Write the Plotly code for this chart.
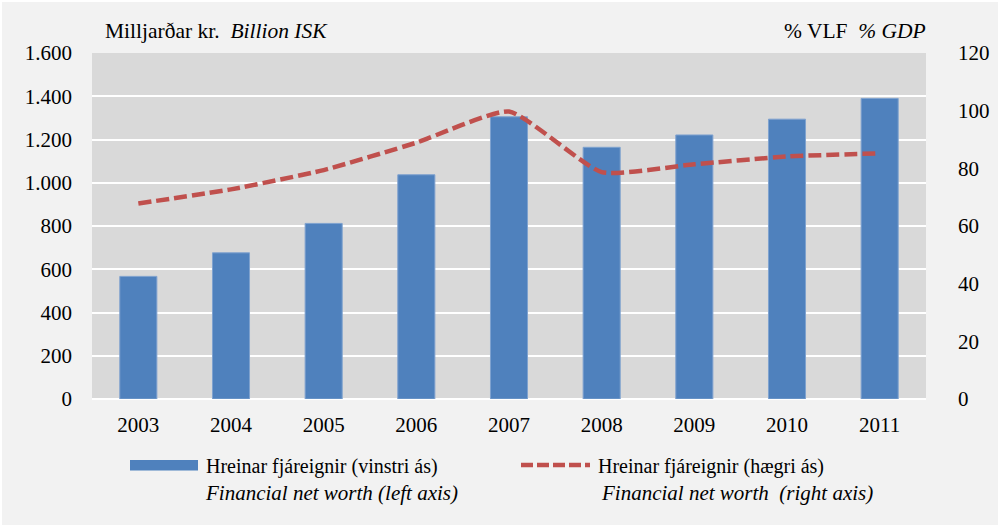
import plotly.graph_objects as go

years = ["2003", "2004", "2005", "2006", "2007", "2008", "2009", "2010", "2011"]
net_worth_isk = [567, 676, 812, 1037, 1305, 1164, 1221, 1294, 1390]
net_worth_gdp = [67.8, 72.7, 79.4, 88.9, 99.7, 78.7, 81.4, 84.1, 85.2]
left_ticks = [0, 200, 400, 600, 800, 1000, 1200, 1400, 1600]
right_ticks = [0, 20, 40, 60, 80, 100, 120]

FONT = "'Liberation Serif', 'Times New Roman', serif"
BLUE = "#4f81bd"
RED = "#c0504d"

fig = go.Figure()
fig.add_trace(go.Bar(
    x=years, y=net_worth_isk, marker=dict(color=BLUE, line=dict(color="#7fa2cf", width=1)),
    showlegend=False, yaxis="y"))
fig.add_trace(go.Scatter(
    x=years, y=net_worth_gdp, mode="lines", yaxis="y2",
    line=dict(color=RED, width=4.5, dash="13px,5px", shape="spline", smoothing=0.5),
    showlegend=False))

L, R, T, B = 92, 74, 53, 128
W, H = 1000, 527
pw, ph = W - L - R, H - T - B

def px(x):
    return (x - L) / pw

def py(y):
    return (H - B - y) / ph

def tf(size=21):
    return dict(family=FONT, size=size, color="black")

fig.update_layout(
    template="none",
    width=W, height=H,
    margin=dict(l=L, r=R, t=T, b=B, pad=0),
    paper_bgcolor="#f2f2f2", plot_bgcolor="#d9d9d9",
    separators=",.",
    font=tf(),
    bargap=0.6,
    xaxis=dict(type="category", showgrid=False, showline=False, zeroline=False, automargin=False,
               ticks="", ticklabelstandoff=11, tickfont=tf(21)),
    yaxis=dict(range=[0, 1600], tickvals=left_ticks, tickformat=",d", automargin=False,
               showgrid=True, gridcolor="white", gridwidth=2, zeroline=True,
               zerolinecolor="white", zerolinewidth=2, showline=False, ticks="",
               ticklabelstandoff=19, tickfont=tf(21)),
    yaxis2=dict(range=[0, 120], tickvals=right_ticks, overlaying="y", side="right", automargin=False,
                showgrid=False, zeroline=False, showline=False, ticks="",
                ticklabelstandoff=31, tickfont=tf(21)),
    shapes=[
        dict(type="rect", xref="paper", yref="paper", x0=px(130), x1=px(198),
             y0=py(470.5), y1=py(460), fillcolor=BLUE, line=dict(width=0)),
        dict(type="line", xref="paper", yref="paper", x0=px(521), x1=px(590),
             y0=py(465), y1=py(465), line=dict(color=RED, width=4.5, dash="12px,4px")),
        dict(type="rect", xref="paper", yref="paper", x0=px(1), x1=px(999),
             y0=py(526), y1=py(1), line=dict(color="white", width=2), layer="below"),
    ],
    annotations=[
        dict(xref="paper", yref="paper", x=px(103), y=py(31), xanchor="left", yanchor="middle",
             showarrow=False, text="Milljarðar kr.  <i>Billion ISK</i>", font=tf(21.5)),
        dict(xref="paper", yref="paper", x=px(928), y=py(31), xanchor="right", yanchor="middle",
             showarrow=False, text="% VLF  <i>% GDP</i>", font=tf(21.5)),
        dict(xref="paper", yref="paper", x=px(204), y=py(466), xanchor="left", yanchor="middle",
             showarrow=False, text="Hreinar fjáreignir (vinstri ás)", font=tf(20)),
        dict(xref="paper", yref="paper", x=px(203), y=py(493), xanchor="left", yanchor="middle",
             showarrow=False, text="<i>Financial net worth (left axis)</i>", font=tf(21)),
        dict(xref="paper", yref="paper", x=px(596), y=py(466), xanchor="left", yanchor="middle",
             showarrow=False, text="Hreinar fjáreignir (hægri ás)", font=tf(20)),
        dict(xref="paper", yref="paper", x=px(599), y=py(493), xanchor="left", yanchor="middle",
             showarrow=False, text="<i>Financial net worth  (right axis)</i>", font=tf(21)),
    ],
)

fig.write_html("out.html", config={"displayModeBar": False},
               post_script="document.body.style.margin='0';document.body.style.padding='0';")
